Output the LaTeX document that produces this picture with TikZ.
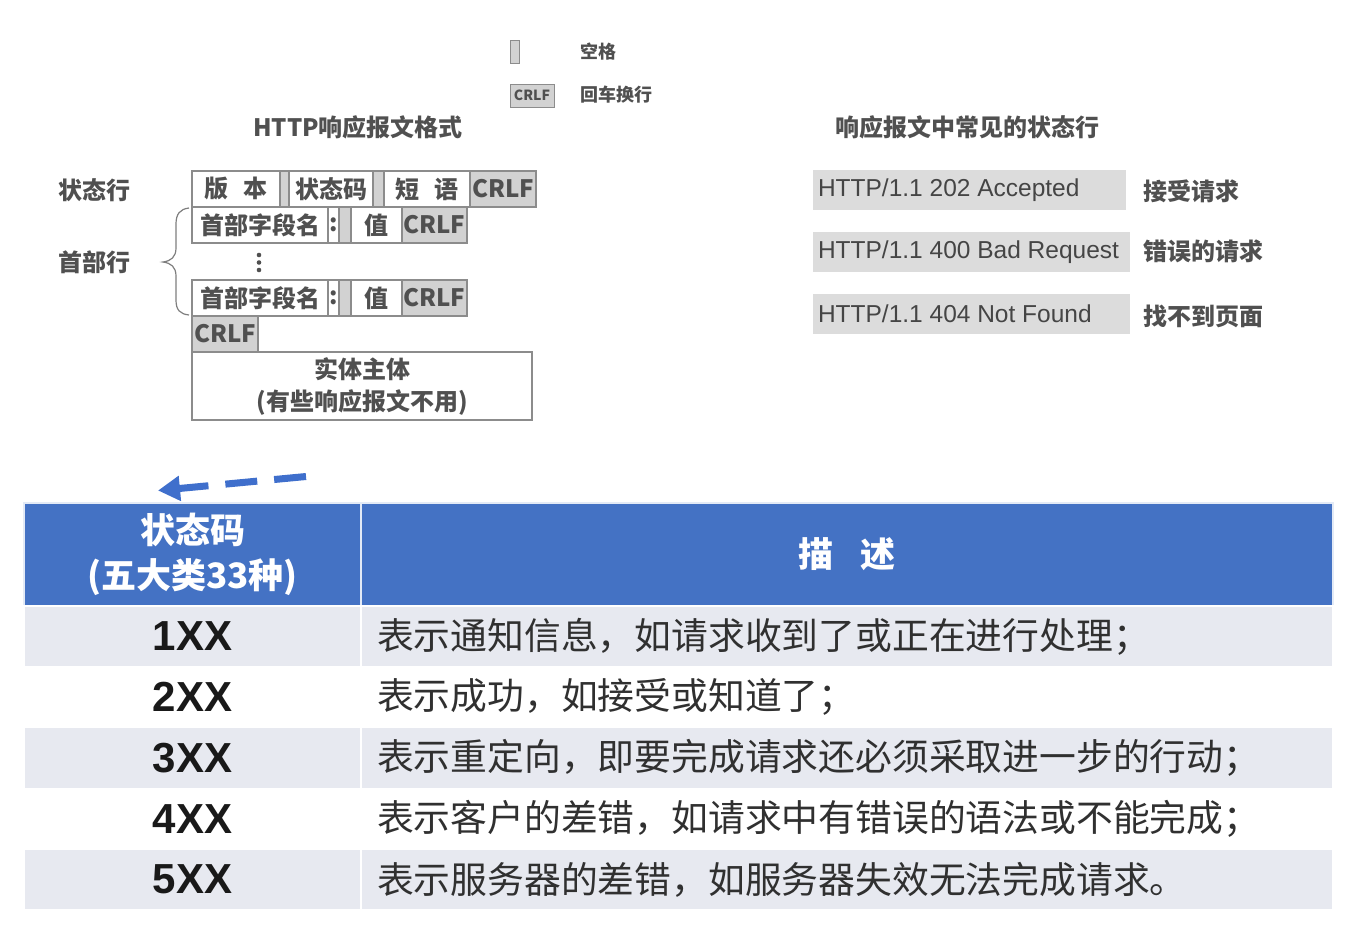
\documentclass[tikz,border=0pt]{standalone}
\usepackage{fontspec}
\setmainfont{Noto Sans CJK SC}
\newfontfamily\arialf{Liberation Sans}
\usetikzlibrary{arrows.meta}
\definecolor{textgray}{HTML}{505050}
\definecolor{httptext}{HTML}{454545}
\definecolor{boxborder}{HTML}{8C8C8C}
\definecolor{sepgray}{HTML}{D2D2D2}
\definecolor{httpgray}{HTML}{DCDCDC}
\definecolor{tblue}{HTML}{4472C4}
\definecolor{rowlight}{HTML}{E7E9F0}
\definecolor{rowwhite}{HTML}{FFFFFF}
\definecolor{tabtext}{HTML}{303030}
\definecolor{arrowblue}{HTML}{3F6FCC}
\begin{document}
\begin{tikzpicture}[x=1pt,y=-1pt,
  tx/.style={text=textgray, font=\fontsize{24}{30}\selectfont\bfseries},
  cell/.style={draw=boxborder, line width=1.2pt, anchor=north west, inner sep=0pt, outer sep=0pt, minimum height=36pt, tx},
  gcell/.style={cell, fill=sepgray},
  lbl/.style={tx, anchor=west, inner sep=0pt},
  legtx/.style={text=textgray, font=\fontsize{18}{22}\selectfont\bfseries, anchor=west, inner sep=0pt},
  httpbox/.style={fill=httpgray, anchor=north west, inner xsep=5pt, inner ysep=0pt, outer sep=0pt, minimum height=40pt, text=httptext, font=\arialf\fontsize{24.5}{28}\selectfont},
  hdr/.style={fill=tblue, draw=white!85!tblue, line width=1.2pt, anchor=north west, inner sep=0pt, outer sep=0pt, minimum height=103pt, text=white, font=\fontsize{35}{45}\selectfont\bfseries, align=center},
  codec/.style={draw=white, line width=1.5pt, anchor=north west, inner sep=0pt, outer sep=0pt, minimum width=337pt, minimum height=60.8pt, text=black!90, font=\arialf\fontsize{42}{46}\selectfont\bfseries},
  descc/.style={draw=white, line width=1.5pt, anchor=north west, inner xsep=16pt, inner ysep=0pt, outer sep=0pt, minimum width=972pt, minimum height=60.8pt, text=tabtext, font=\fontsize{36.8}{40}\selectfont}
]
\useasboundingbox (0,0) rectangle (1368,935);

% legend
\node[gcell, minimum width=9pt, minimum height=23pt, line width=1pt] (legsp) at (510,40) {};
\node[legtx] (legsptx) at (580,52) {空格};
\node[gcell, minimum width=44pt, minimum height=23pt, line width=1pt, font=\fontsize{14}{16}\selectfont\bfseries] (legcr) at (510,84) {CRLF};
\node[legtx] (legcrtx) at (580,95) {回车换行};

% titles
\node[tx] (title1) at (358,127) {HTTP响应报文格式};
\node[tx] (title2) at (967,127) {响应报文中常见的状态行};

% left labels
\node[tx] (lstat) at (94,190) {状态行};
\node[tx] (lhead) at (94,262) {首部行};

% row 1: status line
\node[cell, minimum width=88pt] (ver) at (192,171) {版\hspace{0.6em}本};
\node[gcell, minimum width=9pt] (s1) at (ver.north east) {};
\node[cell, minimum width=84pt] (scode) at (s1.north east) {状态码};
\node[gcell, minimum width=11pt] (s2) at (scode.north east) {};
\node[cell, minimum width=86pt] (phr) at (s2.north east) {短\hspace{0.6em}语};
\node[gcell, minimum width=66pt] (crlf1) at (phr.north east) {CRLF};

% row 2: header line
\node[cell, minimum width=136pt] (hn1) at (192,207) {首部字段名};
\node[cell, minimum width=11pt] (co1) at (hn1.north east) {:};
\node[gcell, minimum width=12pt] (sp1) at (co1.north east) {};
\node[cell, minimum width=51pt] (va1) at (sp1.north east) {值};
\node[gcell, minimum width=65pt] (crlf2) at (va1.north east) {CRLF};

% dots
\fill[textgray] (259,255) circle (2.3pt) (259,262.5) circle (2.3pt) (259,270) circle (2.3pt);

% row 3: header line
\node[cell, minimum width=136pt] (hn2) at (192,280) {首部字段名};
\node[cell, minimum width=11pt] (co2) at (hn2.north east) {:};
\node[gcell, minimum width=12pt] (sp2) at (co2.north east) {};
\node[cell, minimum width=51pt] (va2) at (sp2.north east) {值};
\node[gcell, minimum width=65pt] (crlf3) at (va2.north east) {CRLF};

% empty line
\node[gcell, minimum width=66pt] (crlf4) at (192,316) {CRLF};

% body
\node[cell, minimum width=340pt, minimum height=68pt, align=center, font=\fontsize{24}{32}\selectfont\bfseries] (body) at (192,352) {实体主体\\(有些响应报文不用)};

% brace
\draw[boxborder!90!black, line width=1.2pt]
  (189,208) .. controls (180,209) and (176,214) .. (176,224) -- (176,248)
  .. controls (176,257) and (171,261) .. (163,262)
  .. controls (171,263) and (176,267) .. (176,276) -- (176,300)
  .. controls (176,310) and (180,314) .. (189,315);

% common status lines
\node[httpbox, minimum width=313pt] (h1) at (813,170) {\makebox[303pt][l]{HTTP/1.1 202 Accepted}};
\node[httpbox, minimum width=317pt] (h2) at (813,232) {\makebox[307pt][l]{HTTP/1.1 400 Bad Request}};
\node[httpbox, minimum width=317pt] (h3) at (813,294) {\makebox[307pt][l]{HTTP/1.1 404 Not Found}};
\node[lbl] (h1l) at (1143,191) {接受请求};
\node[lbl] (h2l) at (1143,251) {错误的请求};
\node[lbl] (h3l) at (1143,316) {找不到页面};

% arrow above table
\coordinate (arR) at (306,476.5);
\coordinate (arL) at (158,490.5);
\draw[arrowblue, line width=7pt, dash pattern=on 32pt off 17pt, -{Triangle[length=22pt,width=24pt]}] (arR) -- (arL);

% table header
\node[hdr, minimum width=337pt] (th1) at (24,503) {状态码\\(五大类33种)};
\node[hdr, minimum width=972pt] (th2) at (th1.north east) {描\hspace{0.75em}述};

% table rows
\node[codec, fill=rowlight] (c1) at (24,606) {1XX};
\node[descc, fill=rowlight] (d1) at (c1.north east) {\makebox[940pt][l]{表示通知信息，如请求收到了或正在进行处理；}};
\node[codec, fill=rowwhite] (c2) at (c1.south west) {2XX};
\node[descc, fill=rowwhite] (d2) at (c2.north east) {\makebox[940pt][l]{表示成功，如接受或知道了；}};
\node[codec, fill=rowlight] (c3) at (c2.south west) {3XX};
\node[descc, fill=rowlight] (d3) at (c3.north east) {\makebox[940pt][l]{表示重定向，即要完成请求还必须采取进一步的行动；}};
\node[codec, fill=rowwhite] (c4) at (c3.south west) {4XX};
\node[descc, fill=rowwhite] (d4) at (c4.north east) {\makebox[940pt][l]{表示客户的差错，如请求中有错误的语法或不能完成；}};
\node[codec, fill=rowlight] (c5) at (c4.south west) {5XX};
\node[descc, fill=rowlight] (d5) at (c5.north east) {\makebox[940pt][l]{表示服务器的差错，如服务器失效无法完成请求。}};
\end{tikzpicture}
\end{document}
